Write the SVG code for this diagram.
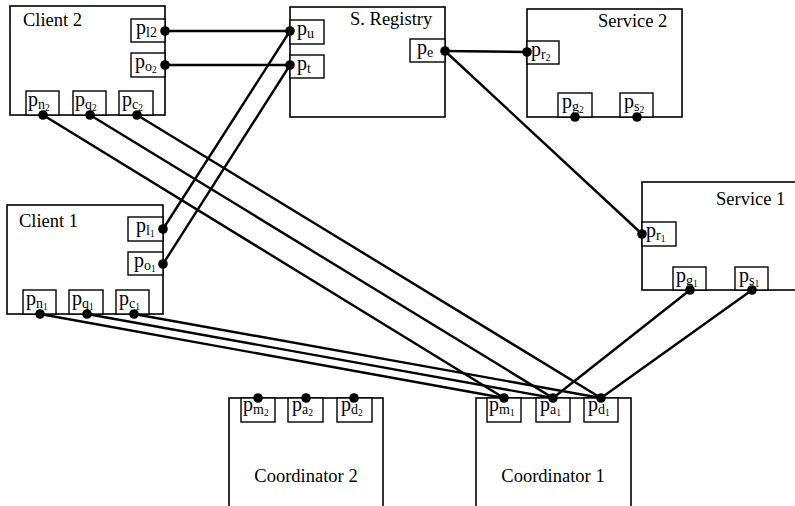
<svg xmlns="http://www.w3.org/2000/svg" width="795" height="506" viewBox="0 0 795 506">
<style>
.box{fill:#fff;stroke:#000;stroke-width:1.6}
.port{fill:#fff;stroke:#000;stroke-width:1.4}
.lbl{font-family:"Liberation Serif","DejaVu Serif",serif;font-size:18.5px;fill:#000}
.p{font-family:"Liberation Serif","DejaVu Serif",serif;font-size:20px;fill:#000}
.s1{font-size:14px}
.s2{font-size:9.5px}
.dot{fill:#000}
.wire{stroke:#000;stroke-width:2.4;fill:none}
</style>
<rect width="795" height="506" fill="#fff"/>
<g id="client2">
<rect class="box" x="10" y="6" width="155" height="109"/>
<text class="lbl" x="23" y="26">Client 2</text>
<rect class="port" x="131" y="19" width="34" height="23"/>
<text class="p" x="136" y="34">p<tspan class="s1" dy="3">l</tspan><tspan class="s1" dy="0">2</tspan></text>
<rect class="port" x="131" y="53" width="34" height="24"/>
<text class="p" x="135" y="68">p<tspan class="s1" dy="3">o</tspan><tspan class="s2" dy="2">2</tspan></text>
<rect class="port" x="26" y="91" width="33" height="24"/>
<text class="p" x="28" y="106">p<tspan class="s1" dy="3">n</tspan><tspan class="s2" dy="2">2</tspan></text>
<rect class="port" x="73" y="91" width="33" height="24"/>
<text class="p" x="75" y="106">p<tspan class="s1" dy="3">q</tspan><tspan class="s2" dy="2">2</tspan></text>
<rect class="port" x="119" y="91" width="34" height="24"/>
<text class="p" x="122" y="106">p<tspan class="s1" dy="3">c</tspan><tspan class="s2" dy="2">2</tspan></text>
<circle class="dot" cx="165" cy="31" r="4.8"/>
<circle class="dot" cx="165" cy="65" r="4.8"/>
<circle class="dot" cx="43" cy="115" r="4.8"/>
<circle class="dot" cx="90" cy="115" r="4.8"/>
<circle class="dot" cx="137" cy="115" r="4.8"/>
</g>
<g id="registry">
<rect class="box" x="290" y="7" width="155" height="110"/>
<text class="lbl" x="350" y="25">S. Registry</text>
<rect class="port" x="290" y="20" width="34" height="24"/>
<text class="p" x="297" y="35">p<tspan class="s1" dy="3">u</tspan></text>
<rect class="port" x="290" y="55" width="34" height="23"/>
<text class="p" x="297" y="70">p<tspan class="s1" dy="3">t</tspan></text>
<rect class="port" x="410" y="39" width="35" height="23"/>
<text class="p" x="417" y="54">p<tspan class="s1" dy="3">e</tspan></text>
<circle class="dot" cx="290" cy="31" r="4.8"/>
<circle class="dot" cx="290" cy="65" r="4.8"/>
<circle class="dot" cx="445" cy="51" r="4.8"/>
</g>
<g id="service2">
<rect class="box" x="527" y="9" width="155" height="108"/>
<text class="lbl" x="598" y="27">Service 2</text>
<rect class="port" x="527" y="41" width="32" height="23"/>
<text class="p" x="531" y="56">p<tspan class="s1" dy="3">r</tspan><tspan class="s2" dy="2">2</tspan></text>
<rect class="port" x="558" y="93" width="34" height="24"/>
<text class="p" x="562" y="108">p<tspan class="s1" dy="3">g</tspan><tspan class="s2" dy="2">2</tspan></text>
<rect class="port" x="620" y="93" width="33" height="24"/>
<text class="p" x="624" y="108">p<tspan class="s1" dy="3">s</tspan><tspan class="s2" dy="2">2</tspan></text>
<circle class="dot" cx="527" cy="52" r="4.8"/>
<circle class="dot" cx="575" cy="117" r="4.8"/>
<circle class="dot" cx="637" cy="117" r="4.8"/>
</g>
<g id="service1">
<rect class="box" x="642" y="182" width="165" height="108"/>
<text class="lbl" x="716" y="205">Service 1</text>
<rect class="port" x="642" y="222" width="34" height="24"/>
<text class="p" x="646" y="237">p<tspan class="s1" dy="3">r</tspan><tspan class="s2" dy="2">1</tspan></text>
<rect class="port" x="673" y="267" width="33" height="23"/>
<text class="p" x="676" y="282">p<tspan class="s1" dy="3">g</tspan><tspan class="s2" dy="2">1</tspan></text>
<rect class="port" x="735" y="267" width="33" height="23"/>
<text class="p" x="739" y="282">p<tspan class="s1" dy="3">s</tspan><tspan class="s2" dy="2">1</tspan></text>
<circle class="dot" cx="642" cy="234" r="4.8"/>
<circle class="dot" cx="690" cy="290" r="4.8"/>
<circle class="dot" cx="752" cy="290" r="4.8"/>
</g>
<g id="client1">
<rect class="box" x="7" y="205" width="156" height="109"/>
<text class="lbl" x="19" y="227">Client 1</text>
<rect class="port" x="128" y="217" width="35" height="24"/>
<text class="p" x="136" y="232">p<tspan class="s1" dy="3">l</tspan><tspan class="s2" dy="2">1</tspan></text>
<rect class="port" x="128" y="252" width="35" height="23"/>
<text class="p" x="134" y="267">p<tspan class="s1" dy="3">o</tspan><tspan class="s2" dy="2">1</tspan></text>
<rect class="port" x="23" y="290" width="33" height="24"/>
<text class="p" x="26" y="305">p<tspan class="s1" dy="3">n</tspan><tspan class="s2" dy="2">1</tspan></text>
<rect class="port" x="69" y="290" width="34" height="24"/>
<text class="p" x="72" y="305">p<tspan class="s1" dy="3">q</tspan><tspan class="s2" dy="2">1</tspan></text>
<rect class="port" x="116" y="290" width="33" height="24"/>
<text class="p" x="119" y="305">p<tspan class="s1" dy="3">c</tspan><tspan class="s2" dy="2">1</tspan></text>
<circle class="dot" cx="163" cy="229" r="4.8"/>
<circle class="dot" cx="163" cy="264" r="4.8"/>
<circle class="dot" cx="40" cy="314" r="4.8"/>
<circle class="dot" cx="87" cy="314" r="4.8"/>
<circle class="dot" cx="134" cy="314" r="4.8"/>
</g>
<g id="coordinator2">
<rect class="box" x="229" y="398" width="154" height="120"/>
<text class="lbl" x="306" y="482" text-anchor="middle" font-size="19px">Coordinator 2</text>
<rect class="port" x="241" y="398" width="34" height="24"/>
<text class="p" x="243" y="411">p<tspan class="s1" dy="3">m</tspan><tspan class="s2" dy="2">2</tspan></text>
<rect class="port" x="288" y="398" width="35" height="24"/>
<text class="p" x="292" y="411">p<tspan class="s1" dy="3">a</tspan><tspan class="s2" dy="2">2</tspan></text>
<rect class="port" x="337" y="398" width="35" height="24"/>
<text class="p" x="341" y="411">p<tspan class="s1" dy="3">d</tspan><tspan class="s2" dy="2">2</tspan></text>
<circle class="dot" cx="258" cy="398" r="4.8"/>
<circle class="dot" cx="306" cy="398" r="4.8"/>
<circle class="dot" cx="354" cy="398" r="4.8"/>
</g>
<g id="coordinator1">
<rect class="box" x="476" y="398" width="155" height="120"/>
<text class="lbl" x="553" y="482" text-anchor="middle" font-size="19px">Coordinator 1</text>
<rect class="port" x="487" y="398" width="34" height="24"/>
<text class="p" x="489" y="411">p<tspan class="s1" dy="3">m</tspan><tspan class="s2" dy="2">1</tspan></text>
<rect class="port" x="536" y="398" width="34" height="24"/>
<text class="p" x="540" y="411">p<tspan class="s1" dy="3">a</tspan><tspan class="s2" dy="2">1</tspan></text>
<rect class="port" x="584" y="398" width="34" height="24"/>
<text class="p" x="588" y="411">p<tspan class="s1" dy="3">d</tspan><tspan class="s2" dy="2">1</tspan></text>
<circle class="dot" cx="504" cy="398" r="4.8"/>
<circle class="dot" cx="553" cy="398" r="4.8"/>
<circle class="dot" cx="601" cy="398" r="4.8"/>
</g>
<g id="connectors">
<line class="wire" x1="165" y1="31" x2="290" y2="31"/>
<line class="wire" x1="165" y1="65" x2="290" y2="65"/>
<line class="wire" x1="163" y1="229" x2="290" y2="31"/>
<line class="wire" x1="163" y1="264" x2="290" y2="65"/>
<line class="wire" x1="445" y1="51" x2="527" y2="52"/>
<line class="wire" x1="445" y1="51" x2="642" y2="234"/>
<line class="wire" x1="43" y1="115" x2="504" y2="398"/>
<line class="wire" x1="90" y1="115" x2="553" y2="398"/>
<line class="wire" x1="137" y1="115" x2="601" y2="398"/>
<line class="wire" x1="40" y1="314" x2="504" y2="398"/>
<line class="wire" x1="87" y1="314" x2="553" y2="398"/>
<line class="wire" x1="134" y1="314" x2="601" y2="398"/>
<line class="wire" x1="553" y1="398" x2="690" y2="290"/>
<line class="wire" x1="601" y1="398" x2="752" y2="290"/>
</g>
</svg>
